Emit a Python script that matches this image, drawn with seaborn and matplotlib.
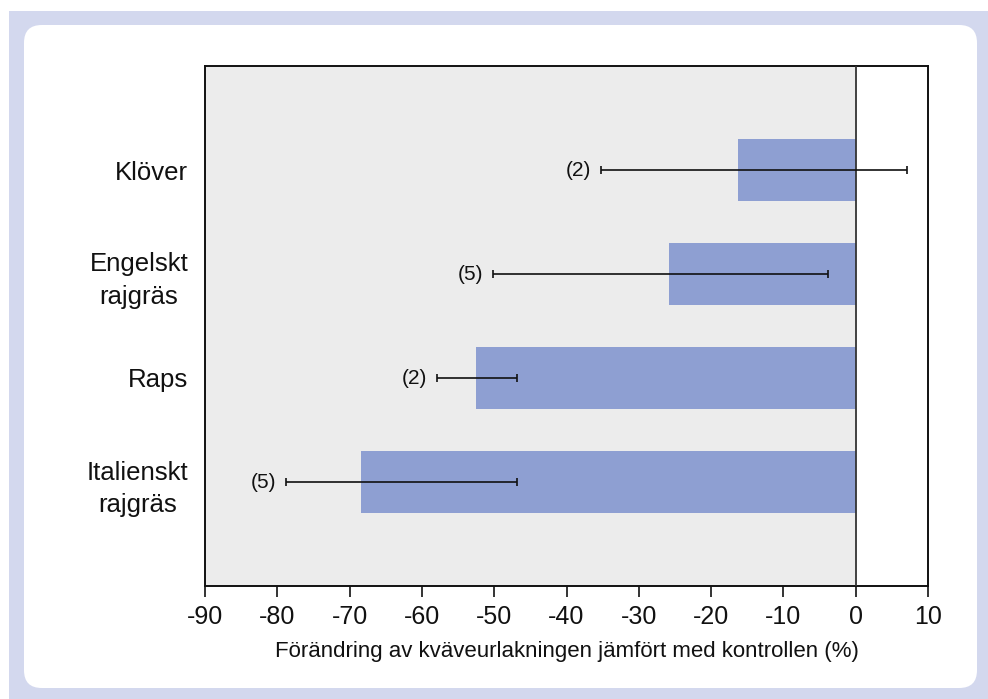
import matplotlib
matplotlib.use("Agg")
import matplotlib.pyplot as plt
from matplotlib.patches import FancyBboxPatch, Rectangle
import seaborn as sns
import pandas as pd

# Data
categories = ["Klöver", "Engelskt\nrajgräs", "Raps", "Italienskt\nrajgräs"]
change = [-16.3, -25.8, -52.5, -68.4]
range_low = [-35.2, -50.2, -57.9, -78.8]
range_high = [7.1, -3.8, -46.9, -46.9]
n_trials = ["(2)", "(5)", "(2)", "(5)"]
xticks = [-90, -80, -70, -60, -50, -40, -30, -20, -10, 0, 10]
xlabel = "Förändring av kväveurlakningen jämfört med kontrollen (%)"

sns.set_theme(style="white")
plt.rcParams["font.family"] = ["Liberation Sans", "DejaVu Sans"]
plt.rcParams["text.color"] = "#111111"
plt.rcParams["xtick.color"] = "#111111"
plt.rcParams["ytick.color"] = "#111111"
plt.rcParams["axes.labelcolor"] = "#111111"

W, H = 988, 699
fig = plt.figure(figsize=(W / 100, H / 100), dpi=100, facecolor="white")

# Framed background panel
fig.patches.append(Rectangle((9 / W, 0), 1, 1 - 11 / H, transform=fig.transFigure,
                             facecolor="#d3d8ee", edgecolor="none", zorder=0))
fig.patches.append(FancyBboxPatch((24 / W, 11 / H), (977 - 24) / W, (688 - 25) / H,
                                  boxstyle="round,pad=0,rounding_size=0.018",
                                  transform=fig.transFigure, facecolor="white",
                                  edgecolor="none", zorder=1,
                                  mutation_aspect=W / H))

ax = fig.add_axes([205 / W, 1 - 586 / H, (928 - 205) / W, (586 - 66) / H], zorder=2)
ax.set_facecolor("#ececec")

df = pd.DataFrame({"kategori": categories, "forandring": change})
sns.barplot(data=df, x="forandring", y="kategori", orient="h", color="#8e9fd2",
            saturation=1, width=0.59, linewidth=0, ax=ax, zorder=3)

ax.axvspan(0, 10, color="white", zorder=1)
ax.axvline(0, color="#333333", lw=1.3, zorder=4)

for i, (v, lo, hi, lab) in enumerate(zip(change, range_low, range_high, n_trials)):
    ax.errorbar(v, i, xerr=[[v - lo], [hi - v]], fmt="none", ecolor="#111111",
                elinewidth=1.2, capsize=3, capthick=1.2, zorder=5)
    ax.annotate(lab, (lo, i), xytext=(-7, 0), textcoords="offset points",
                ha="right", va="center", fontsize=15, color="#111111", zorder=6)

ax.set_xlim(-90, 10)
ax.set_ylim(4, -1)
ax.set_xticks(xticks)
ax.set_xticklabels([str(t) for t in xticks], fontsize=18)
ax.tick_params(axis="x", direction="out", length=8, width=1.2, color="#111111",
               pad=6, bottom=True)
ax.set_yticks(range(len(categories)))
ax.set_yticklabels(categories, fontsize=18.5, linespacing=1.45,
                   multialignment="center")
ax.tick_params(axis="y", length=0, pad=12)
ax.set_ylabel("")
ax.set_xlabel(xlabel, fontsize=16, labelpad=8, color="#111111")
for s in ax.spines.values():
    s.set_visible(True)
    s.set_color("#111111")
    s.set_linewidth(1.4)

fig.savefig("out.png", dpi=100, facecolor=fig.get_facecolor())
